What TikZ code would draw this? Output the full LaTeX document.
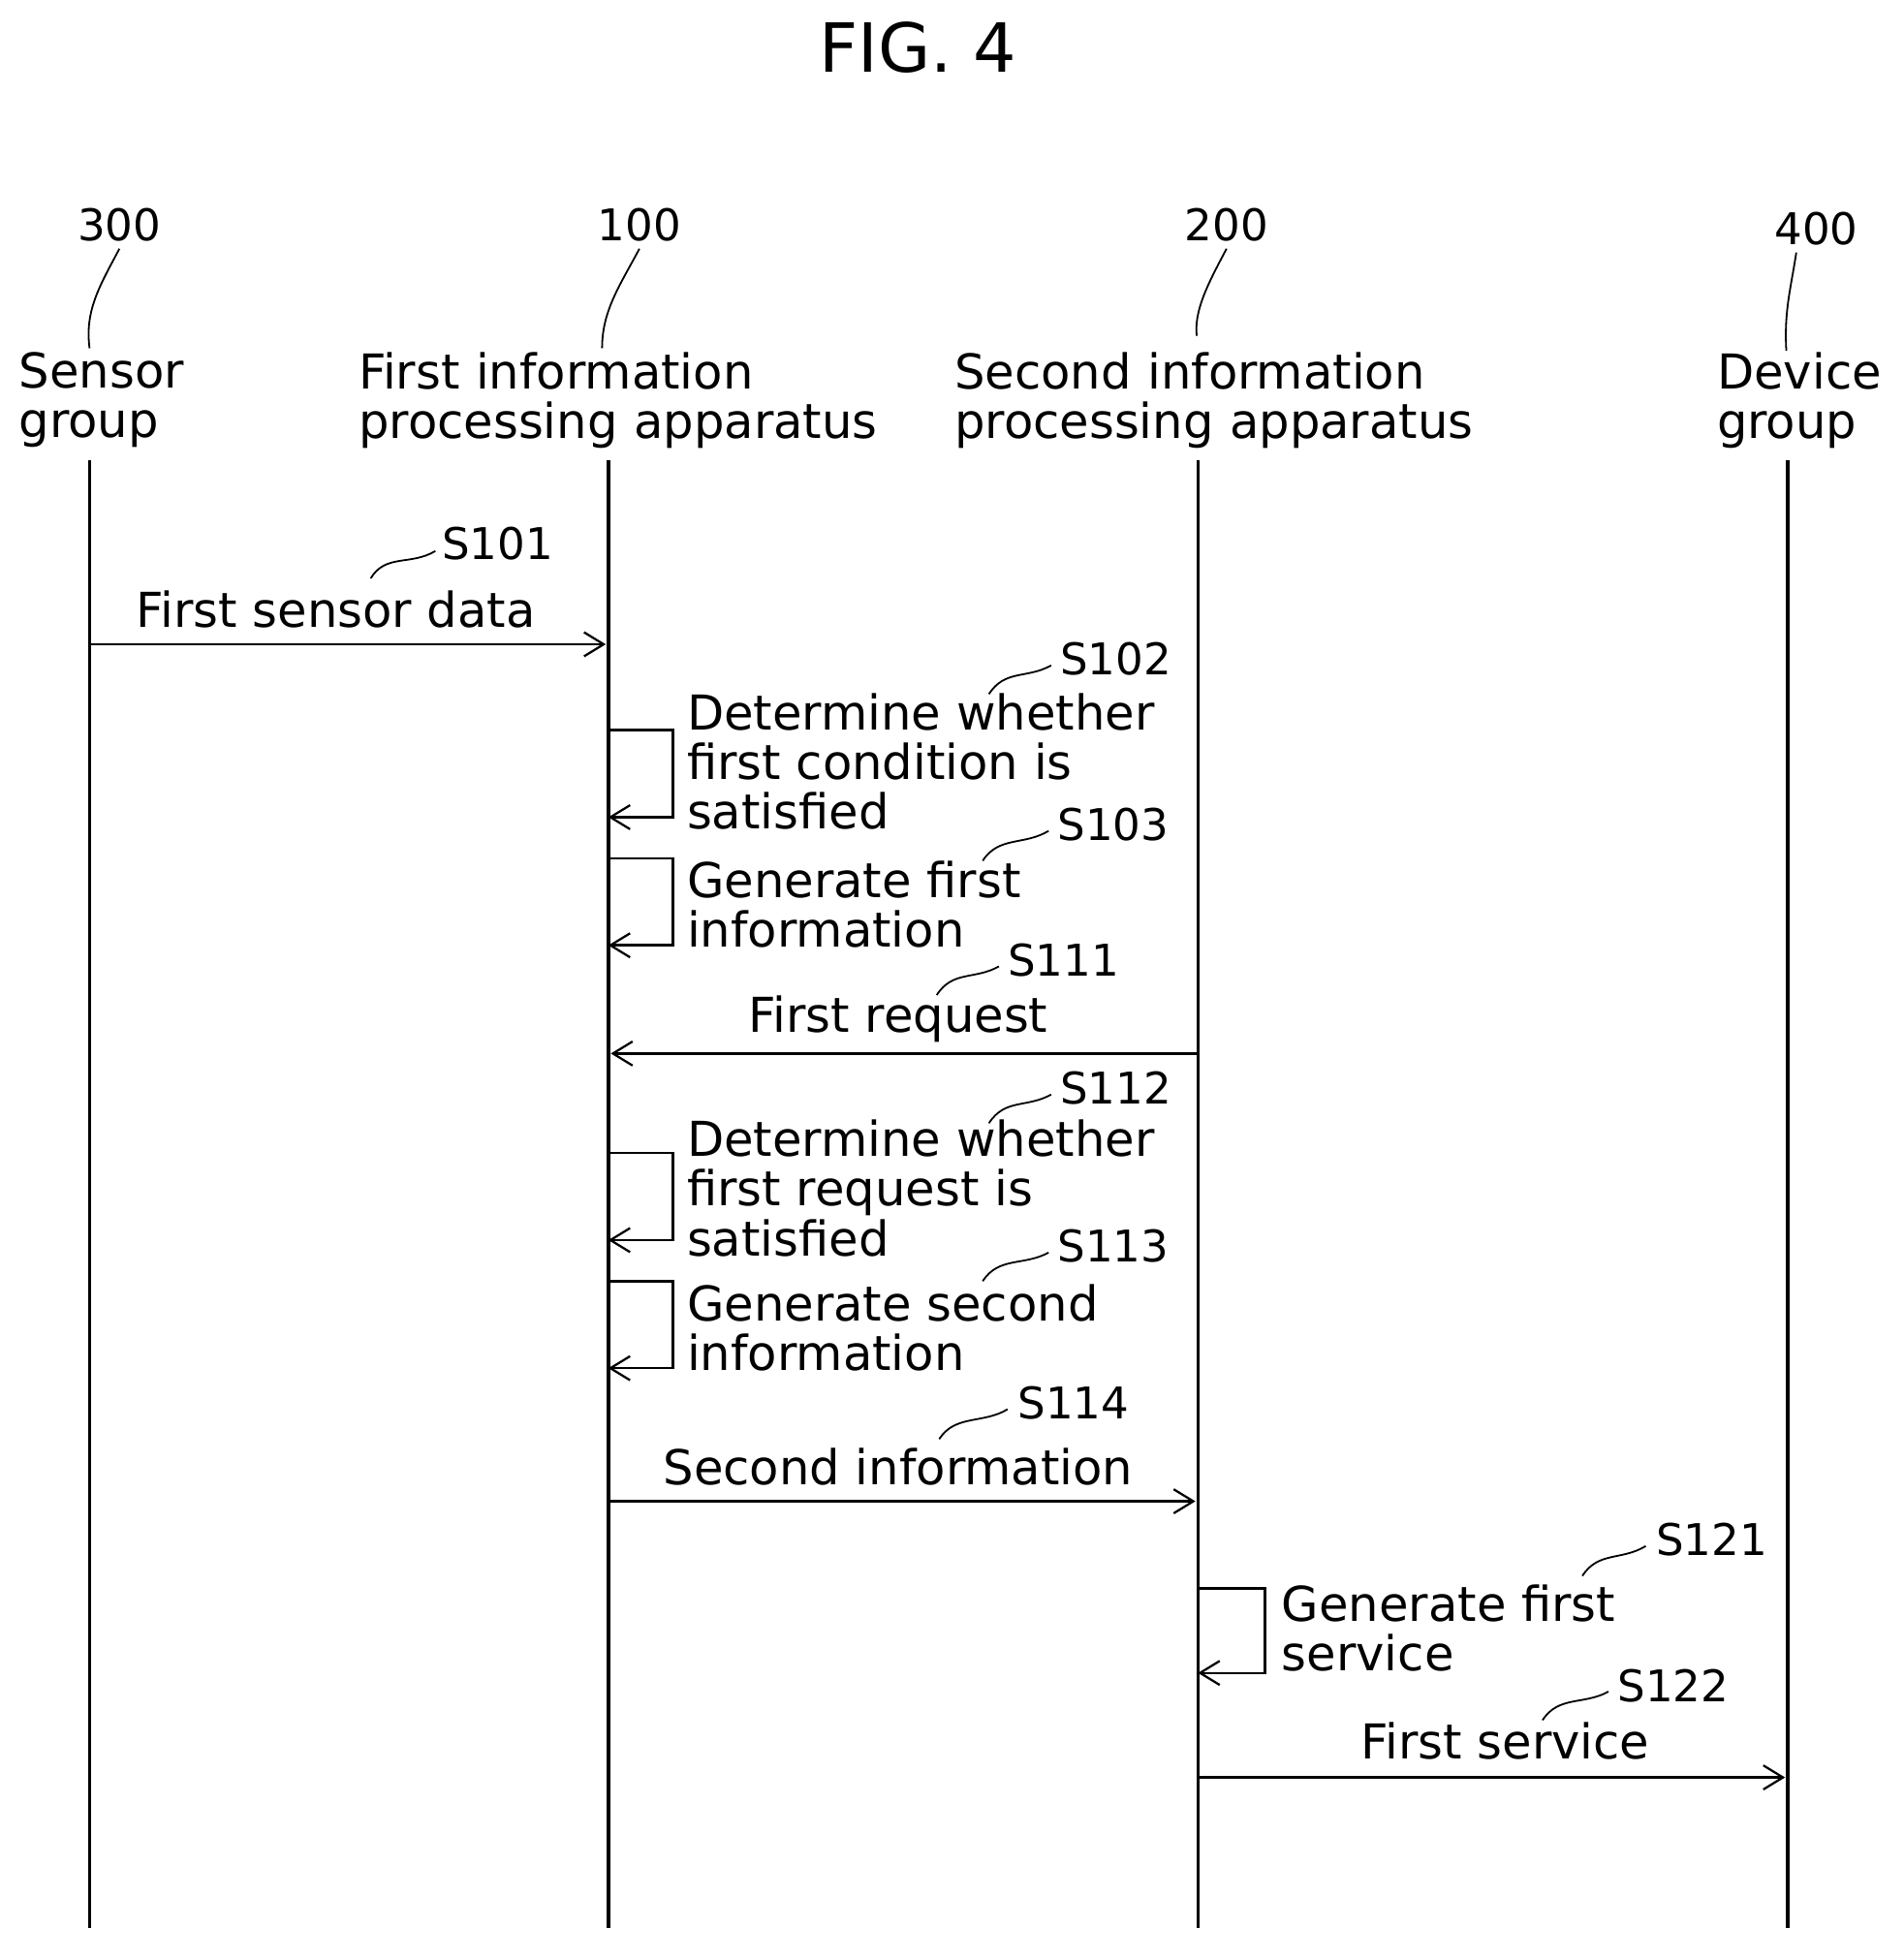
\documentclass[tikz,border=0pt]{standalone}
\usepackage{fontspec}
\setmainfont{DejaVu Sans}
\usetikzlibrary{arrows.meta}
\begin{document}
\begin{tikzpicture}[x=0.02cm,y=-0.02cm,
  lbl/.style={font=\fontsize{22}{23}\selectfont,inner sep=0pt},
  num/.style={font=\fontsize{20}{22}\selectfont,inner sep=0pt},
  txt/.style={font=\fontsize{22}{22.7}\selectfont,inner sep=0pt,anchor=north west,align=left},
  life/.style={line width=1.6pt},
  msg/.style={line width=1.1pt,-{Straight Barb[length=9pt,width=11pt,line width=1pt]}},
  lead/.style={line width=0.8pt}]
\useasboundingbox (0,0) rectangle (1530,1575);
\node[font=\fontsize{31}{34}\selectfont] (title) at (738,38) {FIG. 4};
% headers
\node[num] (n300) at (96,181) {300};
\node[num] (n100) at (514,181) {100};
\node[num] (n200) at (986,181) {200};
\node[num] (n400) at (1460,184) {400};
\node[txt,text width=8cm] (h1) at (15,283) {Sensor\\group};
\node[txt,text width=12cm] (h2) at (288,283) {First information\\processing apparatus};
\node[txt,text width=12cm] (h3) at (767,283) {Second information\\processing apparatus};
\node[txt,text width=6cm] (h4) at (1380,283) {Device\\group};
\draw[lead] (96,200) .. controls (80,230) and (68,250) .. (72,280);
\draw[lead] (514,200) .. controls (498,230) and (484,250) .. (484,280);
\draw[lead] (986,200) .. controls (970,230) and (960,250) .. (962,270);
\draw[lead] (1444,203) .. controls (1440,230) and (1434,250) .. (1436,282);
% lifelines
\coordinate (a0) at (72,370); \coordinate (a1) at (72,1550);
\coordinate (b0) at (489,370); \coordinate (b1) at (489,1550);
\coordinate (c0) at (963,370); \coordinate (c1) at (963,1550);
\coordinate (d0) at (1437,370); \coordinate (d1) at (1437,1550);
\foreach \p in {a,b,c,d} \draw[life] (\p0) -- (\p1);
% S101
\coordinate (m1s) at (72,518); \coordinate (m1e) at (487,518);
\draw[msg] (m1s) -- (m1e);
\node[lbl] (l1) at (270,490) {First sensor data};
\node[num] (s101) at (400,437) {S101};
\draw[lead] (298,465) .. controls (310,445) and (330,455) .. (350,443);
% S102
\coordinate (p2a) at (489,587); \coordinate (p2b) at (489,657);
\draw[msg] (p2a) -- (541,587) -- (541,657) -- (p2b);
\node[txt] (t2) at (552,557) {Determine whether\\first condition is\\satisfied};
\node[num] (s102) at (897,530) {S102};
\draw[lead] (795,558) .. controls (808,538) and (825,546) .. (845,535);
% S103
\coordinate (p3a) at (489,690); \coordinate (p3b) at (489,760);
\draw[msg] (p3a) -- (541,690) -- (541,760) -- (p3b);
\node[txt] (t3) at (552,692) {Generate first\\information};
\node[num] (s103) at (895,663) {S103};
\draw[lead] (790,692) .. controls (803,672) and (823,680) .. (843,668);
% S111
\coordinate (m4s) at (963,847); \coordinate (m4e) at (491,847);
\draw[msg] (m4s) -- (m4e);
\node[lbl] (l4) at (722,819) {First request};
\node[num] (s111) at (855,772) {S111};
\draw[lead] (753,800) .. controls (766,780) and (783,788) .. (803,777);
% S112
\coordinate (p5a) at (489,927); \coordinate (p5b) at (489,997);
\draw[msg] (p5a) -- (541,927) -- (541,997) -- (p5b);
\node[txt] (t5) at (552,900) {Determine whether\\first request is\\satisfied};
\node[num] (s112) at (897,875) {S112};
\draw[lead] (795,903) .. controls (808,883) and (825,891) .. (845,880);
% S113
\coordinate (p6a) at (489,1030); \coordinate (p6b) at (489,1100);
\draw[msg] (p6a) -- (541,1030) -- (541,1100) -- (p6b);
\node[txt] (t6) at (552,1032) {Generate second\\information};
\node[num] (s113) at (895,1002) {S113};
\draw[lead] (790,1030) .. controls (803,1010) and (823,1018) .. (843,1007);
% S114
\coordinate (m7s) at (489,1207); \coordinate (m7e) at (961,1207);
\draw[msg] (m7s) -- (m7e);
\node[lbl] (l7) at (722,1179) {Second information};
\node[num] (s114) at (863,1128) {S114};
\draw[lead] (755,1157) .. controls (768,1137) and (790,1145) .. (810,1133);
% S121
\coordinate (p8a) at (963,1277); \coordinate (p8b) at (963,1345);
\draw[msg] (p8a) -- (1017,1277) -- (1017,1345) -- (p8b);
\node[txt] (t8) at (1030,1274) {Generate first\\service};
\node[num] (s121) at (1376,1238) {S121};
\draw[lead] (1272,1267) .. controls (1285,1247) and (1303,1255) .. (1323,1243);
% S122
\coordinate (m9s) at (963,1429); \coordinate (m9e) at (1435,1429);
\draw[msg] (m9s) -- (m9e);
\node[lbl] (l9) at (1210,1400) {First service};
\node[num] (s122) at (1345,1355) {S122};
\draw[lead] (1240,1383) .. controls (1253,1363) and (1273,1371) .. (1293,1360);
\end{tikzpicture}
\end{document}
